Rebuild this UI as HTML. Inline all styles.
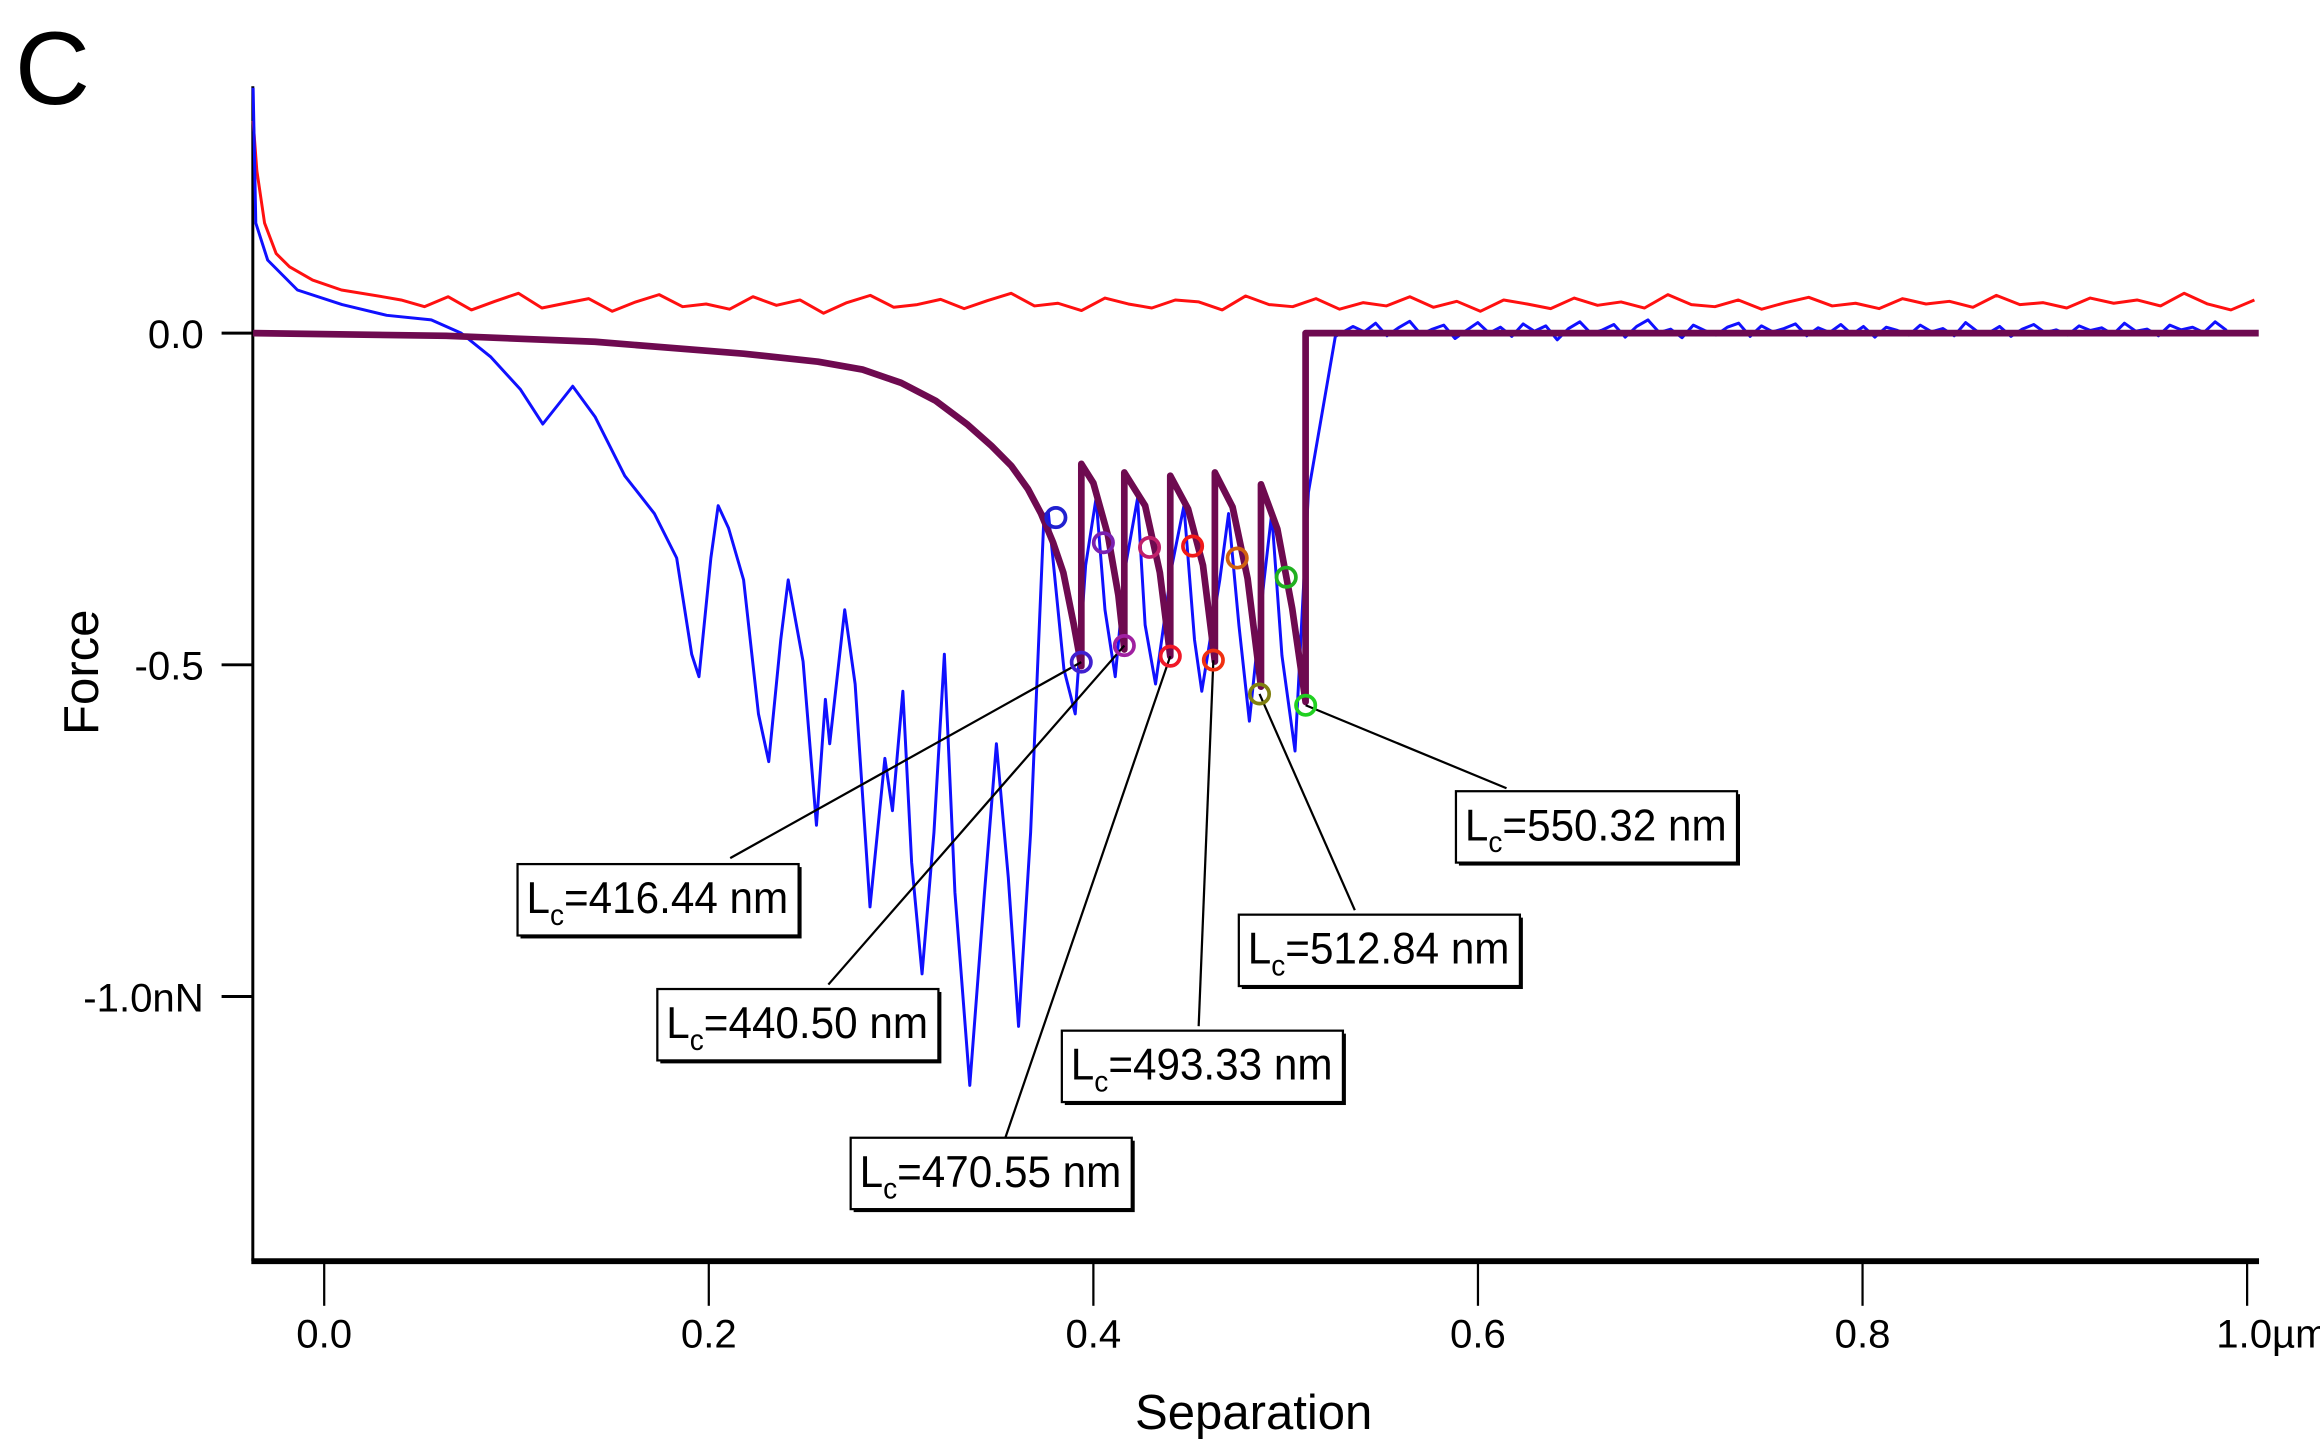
<!DOCTYPE html>
<html><head><meta charset="utf-8"><style>
html,body{margin:0;padding:0;background:#fff;}
svg{display:block;font-family:"Liberation Sans",Arial,sans-serif;}
</style></head><body>
<svg id="chart" width="2320" height="1452" viewBox="0 0 1560 976.3" preserveAspectRatio="none" xmlns="http://www.w3.org/2000/svg">
<text x="10" y="70" font-size="70">C</text>
<g id="axes"></g>
<g id="series"></g>
<g id="annot"></g>
</svg>
<script>
// ---------- data ----------
const xTicks = [0.0, 0.2, 0.4, 0.6, 0.8, 1.0];
const xTickLabels = ["0.0", "0.2", "0.4", "0.6", "0.8", "1.0µm"];
const yTicks = [0.0, -0.5, -1.0];
const yTickLabels = ["0.0", "-0.5", "-1.0nN"];

const redHeadX = [-0.037, -0.035, -0.031, -0.025, -0.018, -0.006, 0.009, 0.032];
const redHeadF = [0.32, 0.245, 0.166, 0.12, 0.1, 0.08, 0.065, 0.054];
const redTailStart = 0.04, redTailStep = 0.0122;
const redTailF = [0.05,0.04,0.055,0.035,0.048,0.06,0.038,0.045,0.052,0.033,0.047,0.058,0.04,0.044,0.036,0.055,0.042,0.05,0.03,0.046,0.057,0.039,0.043,0.051,0.037,0.049,0.06,0.041,0.045,0.034,0.053,0.044,0.038,0.05,0.047,0.035,0.056,0.043,0.04,0.052,0.036,0.046,0.041,0.055,0.039,0.048,0.033,0.05,0.044,0.037,0.053,0.042,0.047,0.038,0.058,0.043,0.04,0.05,0.036,0.046,0.054,0.041,0.045,0.037,0.052,0.044,0.048,0.039,0.057,0.043,0.046,0.038,0.053,0.045,0.05,0.041,0.06,0.044,0.035,0.05];

const blueX = [-0.037,-0.0356,-0.0294,-0.0139,0.0093,0.0325,0.0557,0.0712,0.0867,0.1021,0.1137,0.1292,0.1408,0.1563,0.1717,0.1833,0.1911,0.1949,0.2011,0.2049,0.2103,0.2181,0.2258,0.2312,0.2374,0.2413,0.2490,0.2560,0.2606,0.2629,0.2707,0.2761,0.2838,0.2916,0.2955,0.3009,0.3055,0.3109,0.3171,0.3225,0.3280,0.3357,0.3434,0.3496,0.3558,0.3611,0.3674,0.3743,0.3766,0.3766,0.3847,0.3906,0.3960,0.4014,0.4060,0.4114,0.4168,0.4230,0.4269,0.4323,0.4409,0.4471,0.4526,0.4564,0.4657,0.4703,0.4757,0.4811,0.4888,0.4927,0.4981,0.5049,0.5118,0.5258];
const blueF = [0.37,0.166,0.11,0.065,0.043,0.027,0.02,0.0,-0.036,-0.085,-0.137,-0.08,-0.126,-0.215,-0.272,-0.339,-0.484,-0.518,-0.339,-0.260,-0.294,-0.372,-0.574,-0.646,-0.462,-0.372,-0.495,-0.742,-0.552,-0.619,-0.417,-0.529,-0.865,-0.641,-0.720,-0.540,-0.798,-0.966,-0.753,-0.484,-0.843,-1.134,-0.843,-0.619,-0.821,-1.045,-0.753,-0.274,-0.270,-0.270,-0.507,-0.574,-0.350,-0.249,-0.417,-0.518,-0.350,-0.249,-0.440,-0.529,-0.350,-0.260,-0.462,-0.540,-0.372,-0.272,-0.441,-0.585,-0.372,-0.272,-0.486,-0.630,-0.24,-0.005];
const blueTailStart = 0.535, blueTailStep = 0.0059;
const blueTailF = [0.01,0.002,0.015,-0.004,0.008,0.018,-0.002,0.006,0.012,-0.008,0.004,0.016,0.0,0.009,-0.005,0.014,0.003,0.011,-0.01,0.007,0.017,-0.001,0.005,0.013,-0.006,0.01,0.02,0.001,0.006,-0.007,0.012,0.004,-0.003,0.009,0.015,-0.005,0.011,0.002,0.007,0.014,-0.004,0.008,0.001,0.013,-0.002,0.01,-0.006,0.009,0.004,-0.003,0.012,0.002,0.007,-0.004,0.016,0.003,0.0,0.01,-0.005,0.006,0.013,0.001,0.005,-0.003,0.011,0.004,0.008,-0.002,0.015,0.003,0.006,-0.004,0.012,0.005,0.009,0.001,0.017,0.004];

const wlcX = [-0.037,0.0634,0.1408,0.2181,0.2568,0.2800,0.3000,0.3180,0.3342,0.3470,0.3573,0.3660,0.3728,0.3790,0.3844,0.3898,0.3937,0.3937,0.4,0.4076,0.413,0.4161,0.4161,0.4269,0.4346,0.4400,0.4400,0.4493,0.4570,0.4632,0.4632,0.4724,0.4802,0.4872,0.4872,0.4957,0.5034,0.5104,0.5104,1.006];
const wlcF = [0.0,-0.004,-0.013,-0.031,-0.043,-0.055,-0.075,-0.102,-0.137,-0.17,-0.200,-0.235,-0.272,-0.315,-0.361,-0.439,-0.502,-0.197,-0.226,-0.305,-0.395,-0.477,-0.21,-0.260,-0.361,-0.487,-0.215,-0.265,-0.350,-0.495,-0.21,-0.262,-0.37,-0.533,-0.228,-0.295,-0.415,-0.556,0.0,0.0];

const topX = [0.3805,0.4052,0.4292,0.4516,0.4748,0.5003];
const topF = [-0.278,-0.316,-0.323,-0.321,-0.339,-0.368];
const topColors = ["#2020d0","#7a20b0","#c0206a","#f01818","#d06010","#20b020"];
const rupX = [0.3937,0.4161,0.4400,0.4624,0.4864,0.5104];
const rupF = [-0.496,-0.471,-0.487,-0.493,-0.544,-0.561];
const rupColors = ["#4020d0","#a020a0","#f01828","#f03010","#808010","#20d020"];

const lcLabels = ["416.44","440.50","470.55","493.33","512.84","550.32"];
const boxX = [348,442,572,714,833,979];
const boxY = [581,665,765,693,615,532];
const leadX = [491,557,676,806,911,1013];
const leadY = [577,662,765,690,612,530];

// ---------- scales ----------
const X0 = 218, XS = 1293, Y0 = 224, YS = 446;
const xs = v => X0 + v * XS;
const ys = f => Y0 - f * YS;
const NS = "http://www.w3.org/2000/svg";
function mk(tag, parent, attrs){ const e=document.createElementNS(NS,tag); for(const k in attrs) e.setAttribute(k,attrs[k]); parent.appendChild(e); return e; }
const axes = document.getElementById('axes');
const series = document.getElementById('series');
const annot = document.getElementById('annot');

let yAxis = mk('line', axes, {x1:170,y1:58,x2:170,y2:848,stroke:'#000','stroke-width':2});


let xAxis = mk('line', axes, {x1:169,y1:848,x2:1519,y2:848,stroke:'#000','stroke-width':4});


xTicks.forEach((v,i)=>{
  const t = mk('line', axes, {x1:xs(v),y1:848,x2:xs(v),y2:878,stroke:'#000','stroke-width':1.5});
  
  
  const l = mk('text', axes, {x:xs(v)+(i===xTicks.length-1?17:0),y:906,'font-size':27,'text-anchor':'middle'});
  l.textContent = xTickLabels[i];
  
  
});
yTicks.forEach((v,i)=>{
  const t = mk('line', axes, {x1:149,y1:ys(v),x2:170,y2:ys(v),stroke:'#000','stroke-width':2});
  
  
  const l = mk('text', axes, {x:137,y:ys(v)+10,'font-size':27,'text-anchor':'end'});
  l.textContent = yTickLabels[i];
  
  
});
let xt = mk('text', axes, {x:843,y:961,'font-size':33,'text-anchor':'middle'});
xt.textContent='Separation';


let yt = mk('text', axes, {x:0,y:0,'font-size':33,'text-anchor':'middle',transform:'translate(66,452) rotate(-90)'});
yt.textContent='Force';



function poly(xsArr, fArr, color, w, name){
  const pts = xsArr.map((x,i)=>xs(x).toFixed(1)+','+ys(fArr[i]).toFixed(1)).join(' ');
  const p = mk('polyline', series, {points:pts,fill:'none',stroke:color,'stroke-width':w,'stroke-linejoin':'round'});
  
  
  return p;
}
const redX = redHeadX.concat(redTailF.map((_,i)=>redTailStart+i*redTailStep));
const redF = redHeadF.concat(redTailF);
poly(redX, redF, '#ff1010', 2, 'approach-curve');
const bX = blueX.concat(blueTailF.map((_,i)=>blueTailStart+i*blueTailStep));
const bF = blueF.concat(blueTailF);
poly(bX, bF, '#1010ff', 2, 'retraction-curve');
poly(wlcX, wlcF, '#6e0a50', 4.5, 'wlc-fit-curve');

lcLabels.forEach((lab,i)=>{
  const ln = mk('line', annot, {x1:leadX[i],y1:leadY[i],x2:xs(rupX[i]),y2:ys(rupF[i]),stroke:'#000','stroke-width':1.5});
  
  
  const sh = mk('rect', annot, {x:boxX[i]+2,y:boxY[i]+2,width:189,height:48,fill:'#000'});
  
  
  const bx = mk('rect', annot, {x:boxX[i],y:boxY[i],width:189,height:48,fill:'#fff',stroke:'#000','stroke-width':1.5});
  
  
  const tx = mk('text', annot, {x:boxX[i]+6,y:boxY[i]+33,'font-size':30,textLength:176,lengthAdjust:'spacingAndGlyphs'});
  
  
  tx.innerHTML = 'L<tspan font-size="20" dy="8">c</tspan><tspan dy="-8">=' + lab + ' nm</tspan>';
});

function circ(x,f,c,name){
  const g = mk('circle', annot, {cx:xs(x),cy:ys(f),r:6.5,fill:'none',stroke:c,'stroke-width':2.5});
  
  
}
topX.forEach((x,i)=>circ(x,topF[i],topColors[i],'fit-start-marker'));
rupX.forEach((x,i)=>circ(x,rupF[i],rupColors[i],'rupture-marker'));
</script>
</body></html>
